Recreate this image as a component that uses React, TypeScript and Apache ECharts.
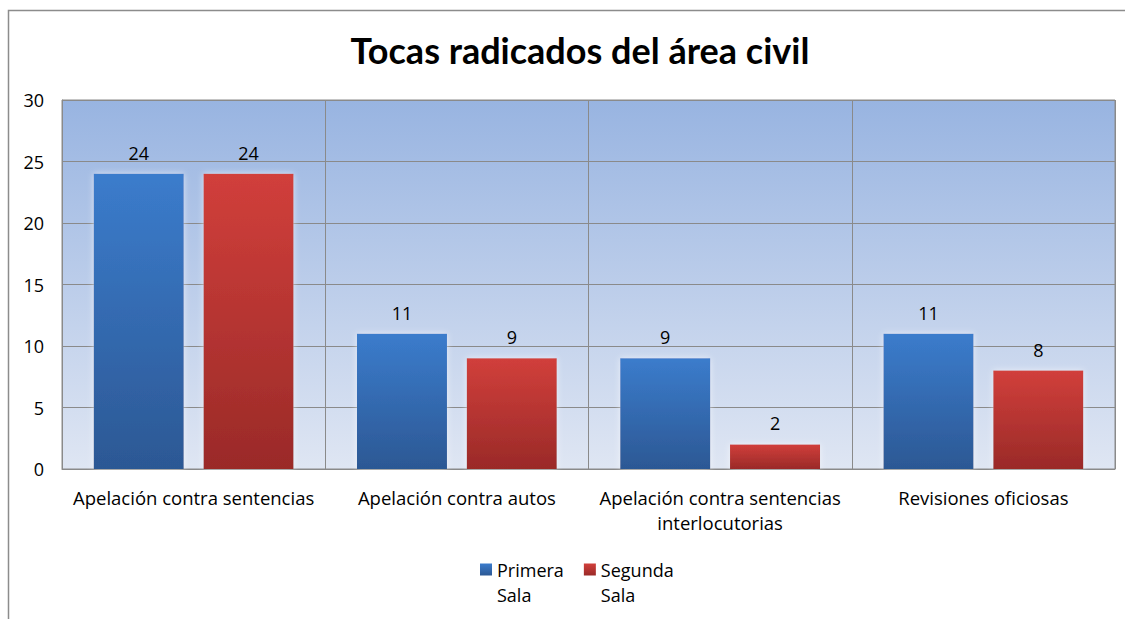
import React, { useEffect, useRef } from "react";
import * as echarts from "echarts";

const categories = [
  "Apelación contra sentencias",
  "Apelación contra autos",
  "Apelación contra sentencias\ninterlocutorias",
  "Revisiones oficiosas",
];
const primeraSala = [24, 11, 9, 11];
const segundaSala = [24, 9, 2, 8];
const seriesNames = ["Primera\nSala", "Segunda\nSala"];
const yTicks = { min: 0, max: 30, interval: 5 };
const titleText = "Tocas radicados del área civil";

const FONT = "'Open Sans', sans-serif";
const TITLE_FONT = "Lato, sans-serif";

export default function App() {
  const ref = useRef<HTMLDivElement>(null);
  useEffect(() => {
    if (!ref.current) return;
    const chart = echarts.init(ref.current, undefined, { renderer: "svg" });
    const blue = new echarts.graphic.LinearGradient(0, 0, 0, 1, [
      { offset: 0, color: "#3b7ccc" },
      { offset: 1, color: "#2c5894" },
    ]);
    const red = new echarts.graphic.LinearGradient(0, 0, 0, 1, [
      { offset: 0, color: "#d13f3b" },
      { offset: 1, color: "#9a2a28" },
    ]);
    chart.setOption({
      animation: false,
      textStyle: { fontFamily: FONT },
      title: {
        text: titleText,
        left: 575,
        textAlign: "center",
        top: 27,
        textStyle: { fontSize: 36, fontWeight: "bold", color: "#000", fontFamily: TITLE_FONT },
      },
      graphic: [
        {
          type: "rect",
          shape: { x: 8.5, y: 10.5, width: 1130, height: 620 },
          style: { fill: "none", stroke: "#8c8c8c", lineWidth: 1.5 },
          z: -10,
        },
      ],
      grid: {
        left: 62,
        right: 10,
        top: 100,
        bottom: 150,
        show: true,
        borderColor: "#8a8a8a",
        borderWidth: 1,
        backgroundColor: new echarts.graphic.LinearGradient(0, 0, 0, 1, [
          { offset: 0, color: "#98b4e1" },
          { offset: 1, color: "#dfe6f3" },
        ]),
      },
      legend: {
        top: 527,
        left: 475,
        itemWidth: 12,
        itemHeight: 12,
        itemGap: 20,
        icon: "rect",
        formatter: (name: string) => " \n" + name,
        textStyle: {
          fontSize: 18,
          color: "#000",
          lineHeight: 25,
          fontFamily: FONT,
        },
        data: seriesNames,
      },
      xAxis: {
        type: "category",
        data: categories,
        axisLine: { lineStyle: { color: "#8a8a8a", width: 1 } },
        axisTick: { show: false },
        splitLine: { show: true, lineStyle: { color: "#8a8a8a", width: 1 } },
        axisLabel: {
          fontSize: 18.5,
          color: "#000",
          margin: 16,
          lineHeight: 25,
          interval: 0,
          fontFamily: FONT,
        },
      },
      yAxis: {
        type: "value",
        min: yTicks.min,
        max: yTicks.max,
        interval: yTicks.interval,
        axisLine: { show: true, lineStyle: { color: "#8a8a8a" } },
        axisTick: { show: false },
        splitLine: { lineStyle: { color: "#8a8a8a", width: 1 } },
        axisLabel: { fontSize: 18, color: "#000", margin: 18, fontFamily: FONT },
      },
      series: [
        {
          name: seriesNames[0],
          type: "bar",
          data: primeraSala,
          barWidth: 90,
          barGap: "22%",
          itemStyle: { color: blue, shadowColor: "rgba(255,255,255,0.6)", shadowBlur: 6 },
          label: { show: true, position: "top", distance: 12, fontSize: 18, color: "#000", fontFamily: FONT },
        },
        {
          name: seriesNames[1],
          type: "bar",
          data: segundaSala,
          barWidth: 90,
          itemStyle: { color: red, shadowColor: "rgba(255,255,255,0.6)", shadowBlur: 6 },
          label: { show: true, position: "top", distance: 12, fontSize: 18, color: "#000", fontFamily: FONT },
        },
      ],
    });
    return () => chart.dispose();
  }, []);
  return (
    <div
      ref={ref}
      style={{ position: "fixed", left: 0, top: 0, width: 1125, height: 619, background: "#fff" }}
    />
  );
}
